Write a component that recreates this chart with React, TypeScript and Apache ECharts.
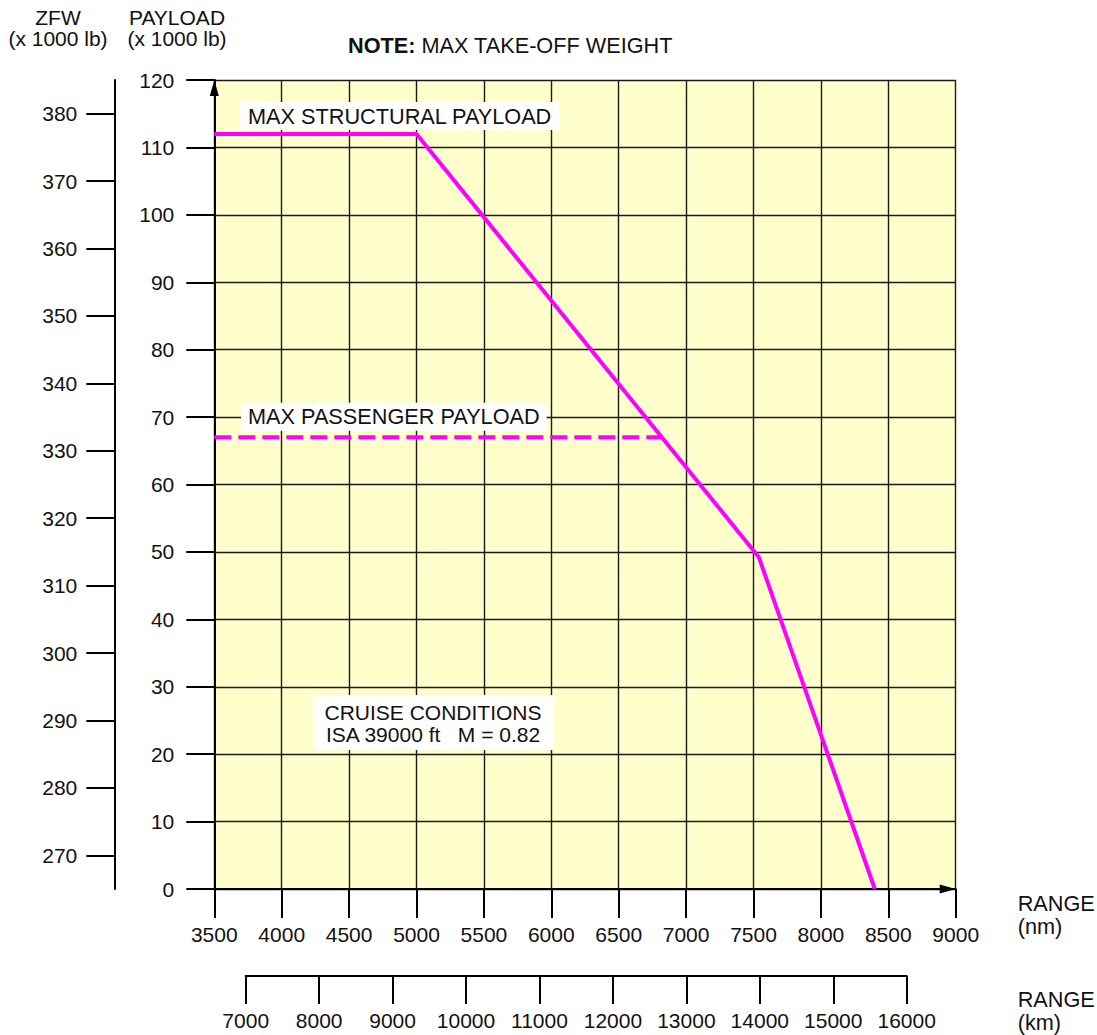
import React, { useEffect, useRef } from "react";
import * as echarts from "echarts";

// ---- data ----
const rangeNmMin = 3500;
const rangeNmMax = 9000;
const rangeNmStep = 500;
const payloadMin = 0;
const payloadMax = 120;
const payloadStep = 10;
const zfwOffset = 265; // ZFW = payload + 265
const zfwTicks = [270, 280, 290, 300, 310, 320, 330, 340, 350, 360, 370, 380];
const rangeKmMin = 7000;
const rangeKmMax = 16000;
const rangeKmStep = 1000;

const structuralRange = [3500, 5000, 7540, 8400];
const structuralPayload = [112, 112, 49.2, 0];
const passengerRange = [3500, 6820];
const passengerPayload = [67, 67];

const FONT = "'Liberation Sans', Arial, Helvetica, sans-serif";
const WORD_SIZE = 21.7;

const plain = (v: number) => String(v);

export default function App() {
  const ref = useRef<HTMLDivElement>(null);
  useEffect(() => {
    document.body.style.margin = "0";
    if (!ref.current) return;
    const chart = echarts.init(ref.current, undefined, { renderer: "svg" });
    const structural = structuralRange.map((x, i) => [x, structuralPayload[i]]);
    const passenger = passengerRange.map((x, i) => [x, passengerPayload[i]]);
    const magenta = "#FF00FF";
    const gridLine = { show: true, lineStyle: { color: "#1a1a1a", width: 1.4 } };
    const wordStyle = (extra: any) => ({
      font: `${WORD_SIZE}px ${FONT}`,
      fill: "#111",
      ...extra,
    });
    chart.setOption({
      animation: false,
      backgroundColor: "#ffffff",
      textStyle: { fontFamily: FONT },
      grid: [
        {
          left: 214.3,
          right: 1097 - 955.7,
          top: 80,
          bottom: 1035 - 889,
          show: true,
          backgroundColor: "#FFFFCC",
          borderWidth: 0,
          outerBoundsMode: "none",
          containLabel: false,
        },
        {
          left: 245.7,
          right: 1097 - 906.7,
          top: 900,
          bottom: 1035 - 976,
          show: false,
          outerBoundsMode: "none",
          containLabel: false,
        },
      ],
      xAxis: [
        {
          type: "value",
          gridIndex: 0,
          min: rangeNmMin,
          max: rangeNmMax,
          interval: rangeNmStep,
          position: "bottom",
          axisLine: {
            show: true,
            onZero: false,
            symbol: ["none", "triangle"],
            symbolSize: [9, 16],
            symbolOffset: [0, -8],
            lineStyle: { color: "#000", width: 2 },
          },
          axisTick: { show: true, inside: false, length: 29, lineStyle: { color: "#000", width: 2 } },
          axisLabel: { show: true, margin: 35, fontSize: 21, color: "#111", fontFamily: FONT, showMinLabel: true, showMaxLabel: true, formatter: plain },
          splitLine: gridLine,
        },
        {
          type: "value",
          gridIndex: 1,
          min: rangeKmMin,
          max: rangeKmMax,
          interval: rangeKmStep,
          position: "bottom",
          axisLine: { show: true, onZero: false, lineStyle: { color: "#000", width: 2 } },
          axisTick: { show: true, inside: false, length: 28, lineStyle: { color: "#000", width: 2 } },
          axisLabel: { show: true, margin: 34, fontSize: 21, color: "#111", fontFamily: FONT, showMinLabel: true, showMaxLabel: true, formatter: plain },
          splitLine: { show: false },
        },
      ],
      yAxis: [
        {
          type: "value",
          gridIndex: 0,
          min: payloadMin,
          max: payloadMax,
          interval: payloadStep,
          position: "left",
          axisLine: {
            show: true,
            onZero: false,
            symbol: ["none", "triangle"],
            symbolSize: [9, 16],
            symbolOffset: [0, -8],
            lineStyle: { color: "#000", width: 2 },
          },
          axisTick: { show: true, inside: false, length: 28, lineStyle: { color: "#000", width: 2 } },
          axisLabel: { show: true, margin: 40, fontSize: 21, color: "#111", fontFamily: FONT, showMinLabel: true, showMaxLabel: true, formatter: plain },
          splitLine: gridLine,
        },
        {
          type: "value",
          gridIndex: 0,
          min: payloadMin + zfwOffset,
          max: payloadMax + zfwOffset,
          position: "left",
          offset: 214.3 - 114.3,
          axisLine: { show: true, onZero: false, lineStyle: { color: "#000", width: 2 } },
          axisTick: { show: true, inside: false, length: 28, customValues: zfwTicks, lineStyle: { color: "#000", width: 2 } },
          axisLabel: { show: true, margin: 37, fontSize: 21, color: "#111", fontFamily: FONT, customValues: zfwTicks, formatter: plain },
          splitLine: { show: false },
        },
        {
          type: "value",
          gridIndex: 1,
          show: false,
          min: 0,
          max: 1,
        },
      ],
      series: [
        {
          type: "line",
          name: "MAX STRUCTURAL PAYLOAD",
          xAxisIndex: 0,
          yAxisIndex: 0,
          data: structural,
          symbol: "none",
          lineStyle: { color: magenta, width: 4 },
          z: 5,
        },
        {
          type: "line",
          name: "MAX PASSENGER PAYLOAD",
          xAxisIndex: 0,
          yAxisIndex: 0,
          data: passenger,
          symbol: "none",
          lineStyle: { color: magenta, width: 4, type: [17, 7] },
          z: 5,
        },
      ],
      graphic: [
        {
          type: "text",
          x: 58,
          y: 27.5,
          z: 20,
          style: wordStyle({ text: "ZFW\n(x 1000 lb)", font: `21px ${FONT}`, align: "center", verticalAlign: "middle", lineHeight: 21 }),
        },
        {
          type: "text",
          x: 177,
          y: 27.5,
          z: 20,
          style: wordStyle({ text: "PAYLOAD\n(x 1000 lb)", font: `21px ${FONT}`, align: "center", verticalAlign: "middle", lineHeight: 21 }),
        },
        {
          type: "text",
          x: 348,
          y: 45.7,
          z: 20,
          style: wordStyle({
            text: "{b|NOTE:} {n|MAX TAKE-OFF WEIGHT}",
            align: "left",
            verticalAlign: "middle",
            rich: {
              b: { fontWeight: "bold", fontSize: WORD_SIZE, fontFamily: FONT, fill: "#111" },
              n: { fontSize: WORD_SIZE, fontFamily: FONT, fill: "#111" },
            },
          }),
        },
        {
          type: "text",
          x: 1017.7,
          y: 914.8,
          z: 20,
          style: wordStyle({ text: "RANGE\n(nm)", align: "left", verticalAlign: "middle", lineHeight: 23 }),
        },
        {
          type: "text",
          x: 1017.7,
          y: 1011.4,
          z: 20,
          style: wordStyle({ text: "RANGE\n(km)", align: "left", verticalAlign: "middle", lineHeight: 23 }),
        },
        {
          type: "text",
          x: 240,
          y: 116,
          z: 20,
          style: wordStyle({
            text: "MAX STRUCTURAL PAYLOAD",
            align: "left",
            verticalAlign: "middle",
            backgroundColor: "#ffffff",
            padding: [3, 7, 3, 8],
          }),
        },
        {
          type: "text",
          x: 241,
          y: 416.7,
          z: 20,
          style: wordStyle({
            text: "MAX PASSENGER PAYLOAD",
            align: "left",
            verticalAlign: "middle",
            backgroundColor: "#ffffff",
            padding: [3, 7, 3, 7],
          }),
        },
        {
          type: "rect",
          z: 19,
          shape: { x: 313, y: 695, width: 240, height: 55 },
          style: { fill: "#ffffff" },
        },
        {
          type: "text",
          x: 433,
          y: 712,
          z: 20,
          style: wordStyle({
            text: "CRUISE CONDITIONS",
            font: `21px ${FONT}`,
            align: "center",
            verticalAlign: "middle",
          }),
        },
        {
          type: "text",
          x: 433,
          y: 734,
          z: 20,
          style: wordStyle({
            text: "ISA 39000 ft   M = 0.82",
            font: `21px ${FONT}`,
            align: "center",
            verticalAlign: "middle",
          }),
        },
      ],
    });
    return () => chart.dispose();
  }, []);
  return <div ref={ref} style={{ width: 1097, height: 1035 }} />;
}
